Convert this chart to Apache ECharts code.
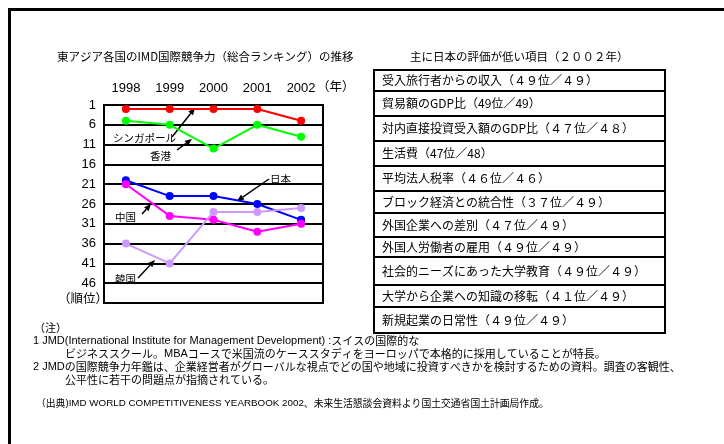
<!DOCTYPE html>
<html><head><meta charset="utf-8">
<script src="https://cdn.jsdelivr.net/npm/echarts@6/dist/echarts.min.js"></script>
<style>html,body{margin:0;padding:0;background:#fff}#c{width:724px;height:444px}</style>
</head><body><div id="c"></div>
<script>
// ---- data ----
const years = ['1998', '1999', '2000', '2001', '2002'];
const singapore = [2, 2, 2, 2, 5];
const hongkong = [5, 6, 12, 6, 9];
const japan = [20, 24, 24, 26, 30];
const china = [21, 29, 30, 33, 31];
const korea = [36, 41, 28, 28, 27];
const yTicks = [1, 6, 11, 16, 21, 26, 31, 36, 41, 46];
const chartTitle = '東アジア各国のIMD国際競争力（総合ランキング）の推移';
const tableTitle = '主に日本の評価が低い項目（２００２年）';
const tableItems = [
  '受入旅行者からの収入（４９位／４９）',
  '貿易額のGDP比（49位／49）',
  '対内直接投資受入額のGDP比（４７位／４８）',
  '生活費（47位／48）',
  '平均法人税率（４６位／４６）',
  'ブロック経済との統合性（３７位／４９）',
  '外国企業への差別（４７位／４９）',
  '外国人労働者の雇用（４９位／４９）',
  '社会的ニーズにあった大学教育（４９位／４９）',
  '大学から企業への知識の移転（４１位／４９）',
  '新規起業の日常性（４９位／４９）'
];
// {a|...} marks Latin runs
const notes = [
  '（注）',
  '{a|1 JMD(International Institute for Management Development) :}スイスの国際的な',
  'ビジネススクール。{a|MBA}コースで米国流のケーススタディをヨーロッパで本格的に採用していることが特長。',
  '{a|2 JMD}の国際競争力年鑑は、企業経営者がグローバルな視点でどの国や地域に投資すべきかを検討するための資料。調査の客観性、',
  '公平性に若干の問題点が指摘されている。',
  '（出典{a|)IMD WORLD COMPETITIVENESS YEARBOOK 2002}、未来生活懇談会資料より国土交通省国土計画局作成。'
];

// ---- layout ----
const FONT = '"Noto Sans CJK JP", "Liberation Sans", sans-serif';
const LATIN = '"Liberation Sans", sans-serif';
const rowEdges = [70, 91, 116, 141, 166, 191, 213, 237, 257, 285, 307, 333];
const tblX = 374, tblW = 291;
const noteX = [34, 33, 65, 33, 65, 36];
const noteY = [328, 341, 354, 367, 380, 403];
const noteCJK = [11, 11, 11, 11, 11, 9.8];
const noteLat = [11, 11, 11, 11, 11, 9.8];

const graphics = [];
// page frame (top + left)
graphics.push({type:'rect', shape:{x:8, y:8, width:716, height:3}, style:{fill:'#000'}});
graphics.push({type:'rect', shape:{x:8, y:8, width:3, height:436}, style:{fill:'#000'}});
graphics.push({type:'text', left:57, top:51, style:{text:chartTitle, font:'11.5px '+FONT, fill:'#000'}});
graphics.push({type:'text', left:410, top:51, style:{text:tableTitle, font:'11.5px '+FONT, fill:'#000'}});
graphics.push({type:'text', left:317, top:80, style:{text:'（年）', font:'12.5px '+FONT, fill:'#000'}});
graphics.push({type:'text', left:58, top:292, style:{text:'（順位）', font:'12.5px '+FONT, fill:'#000'}});

// table
tableItems.forEach((t, i) => {
  const y0 = rowEdges[i], y1 = rowEdges[i+1];
  graphics.push({type:'rect', shape:{x:tblX, y:y0, width:tblW, height:y1-y0},
    style:{fill:'none', stroke:'#000', lineWidth:2}});
  graphics.push({type:'text', x:382, y:(y0+y1)/2, style:{text:t, font:'12px '+FONT, fill:'#000', textVerticalAlign:'middle'}});
});
// notes
notes.forEach((t, i) => {
  graphics.push({type:'text', x:noteX[i], y:noteY[i], style:{text:t, fontSize:noteCJK[i], fontFamily:FONT, fill:'#000', textVerticalAlign:'middle',
    rich:{a:{fontSize:noteLat[i], fontFamily:LATIN, fill:'#000'}}}});
});

// annotations
function arrow(x1, y1, x2, y2) {
  const a = Math.atan2(y2-y1, x2-x1), L = 7, W = 3;
  const bx = x2 - L*Math.cos(a), by = y2 - L*Math.sin(a);
  graphics.push({type:'line', shape:{x1, y1, x2:bx, y2:by}, style:{stroke:'#000', lineWidth:1.5}});
  graphics.push({type:'polygon', shape:{points:[[x2,y2],[bx - W*Math.sin(a), by + W*Math.cos(a)],[bx + W*Math.sin(a), by - W*Math.cos(a)]]}, style:{fill:'#000'}});
}
const annos = [
  {t:'シンガポール', x:113, y:138, a:[172,137,195,108]},
  {t:'香港', x:150, y:156, a:[177,150,192,139]},
  {t:'日本', x:270, y:179, a:[269,179,237,201]},
  {t:'中国', x:115, y:217, a:[142,214,151,204]},
  {t:'韓国', x:115, y:279, a:[138,278,155,260]}
];
annos.forEach(o => {
  graphics.push({type:'text', x:o.x, y:o.y, z:20, style:{text:o.t, font:'10.5px '+FONT, fill:'#000', textVerticalAlign:'middle'}});
  arrow(...o.a);
});

function mk(name, data, color) {
  return {name, type:'line', data, symbol:'circle', symbolSize:8, z:5,
    lineStyle:{color, width:2}, itemStyle:{color}, animation:false};
}

const chart = echarts.init(document.getElementById('c'));
chart.setOption({
  backgroundColor:'#fff',
  animation:false,
  grid:{left:104, top:105, right:401, bottom:141, show:true, borderColor:'#000', borderWidth:2, backgroundColor:'transparent'},
  xAxis:{type:'category', data:years, position:'top', boundaryGap:true,
    axisLine:{lineStyle:{color:'#000', width:2}},
    axisTick:{inside:true, length:4, lineStyle:{color:'#000', width:1}},
    axisLabel:{color:'#000', fontSize:13, margin:10, fontFamily:LATIN}},
  yAxis:{type:'value', inverse:true, min:1, max:51, interval:5,
    axisLine:{show:true, lineStyle:{color:'#000', width:2}},
    axisTick:{show:false},
    splitLine:{lineStyle:{color:'#000', width:2}},
    axisLabel:{color:'#000', fontSize:13, margin:8, fontFamily:LATIN,
      formatter: v => yTicks.indexOf(v) >= 0 ? String(v) : ''}},
  series:[
    mk('シンガポール', singapore, '#ff0000'),
    mk('香港', hongkong, '#00ff00'),
    mk('日本', japan, '#0000ff'),
    mk('中国', china, '#ff00ff'),
    mk('韓国', korea, '#cc99ff')
  ],
  graphic: graphics
});
</script></body></html>
